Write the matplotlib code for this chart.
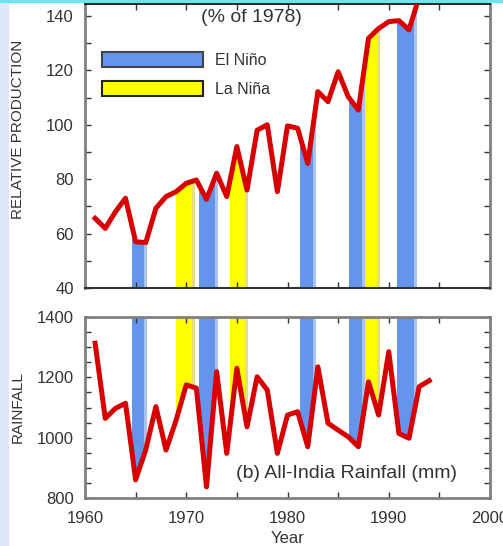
import matplotlib
matplotlib.use("Agg")
import matplotlib.pyplot as plt
import matplotlib.patches as mpatches
from matplotlib.ticker import MultipleLocator
import numpy as np

# data: relative production (% of 1978) and all-India rainfall (mm)
years_prod = list(range(1961, 1994))
production = [65.6, 61.9, 68.0, 73.0, 57.0, 56.7, 69.3, 73.6, 75.4, 78.5,
              79.7, 72.6, 82.2, 73.6, 92.0, 76.0, 98.0, 100.0, 75.4, 99.6,
              98.7, 85.8, 112.2, 108.5, 119.5, 110.3, 105.4, 131.8, 135.4, 137.9,
              138.3, 134.9, 147.0]

years_rain = list(range(1961, 1995))
rainfall = [1313, 1064, 1097, 1114, 860, 960, 1103, 959, 1058, 1175,
            1164, 837, 1219, 948, 1230, 1036, 1202, 1158, 948, 1075,
            1086, 970, 1235, 1048, 1025, 1003, 970, 1185, 1075, 1285,
            1014, 998, 1169, 1189]

el_nino = [(1964.6, 1966.1), (1971.3, 1973.1), (1981.2, 1982.8),
           (1986.1, 1987.65), (1990.8, 1992.75)]
la_nina = [(1969.0, 1970.9), (1974.3, 1976.1), (1987.65, 1989.1)]

# style
BLUE = '#6495ED'
YELLOW = '#FFFF00'
RED = '#d60000'
SPINE = '#808080'
TEXT = '#333333'
plt.rcParams['font.family'] = ['Liberation Sans', 'DejaVu Sans']

fig = plt.figure(figsize=(5.03, 5.46), dpi=100)

# slide decorations around the figure
fig.add_artist(mpatches.Rectangle((0, 0), 9 / 503, 1, transform=fig.transFigure,
                                  facecolor='#dfe7fb', edgecolor='none', zorder=0))
fig.add_artist(mpatches.Rectangle((0, 1 - 3 / 546), 1, 3 / 546, transform=fig.transFigure,
                                  facecolor='#66e8ef', edgecolor='none', zorder=0))

ax1 = fig.add_axes([85 / 503, 0.47253, 405 / 503, 0.52015])
ax2 = fig.add_axes([85 / 503, 0.08791, 405 / 503, 0.3315])


def style_axes(ax):
    for s in ax.spines.values():
        s.set_color(SPINE)
        s.set_linewidth(2)
    ax.tick_params(which='both', direction='in', top=True, right=True,
                   length=4, width=1, color='#333333',
                   labelsize=12, labelcolor=TEXT)
    ax.tick_params(axis='y', pad=8)
    ax.tick_params(axis='x', pad=9)
    ax.set_xlim(1960, 2000)
    ax.xaxis.set_major_locator(MultipleLocator(10))
    ax.xaxis.set_minor_locator(MultipleLocator(5))


def draw_bands(ax, clip, spans, color, edge):
    path = clip.get_paths()[0]
    for a, b in spans:
        r = ax.axvspan(a, b, facecolor=color, edgecolor='none', zorder=1)
        r.set_clip_path(path, ax.transData)
        # lighter strip along the right edge of each band
        s = ax.axvspan(b - 0.3, b, facecolor=edge, edgecolor='none', zorder=1)
        s.set_clip_path(path, ax.transData)


# top panel: production
style_axes(ax1)
ax1.set_ylim(40, 144.4)
ax1.yaxis.set_major_locator(MultipleLocator(20))
ax1.yaxis.set_minor_locator(MultipleLocator(10))
ax1.set_yticks([40, 60, 80, 100, 120, 140])
ax1.tick_params(axis='x', labelbottom=False)
ax1.spines['top'].set_color('black')
ax1.spines['top'].set_linewidth(1.2)
ax1.spines['bottom'].set_color('#333333')
ax1.spines['bottom'].set_linewidth(1.5)

under = ax1.fill_between(years_prod, 40, production, facecolor='none', edgecolor='none')
draw_bands(ax1, under, el_nino, BLUE, '#a9c3ef')
draw_bands(ax1, under, la_nina, YELLOW, '#e6e07a')
ax1.plot(years_prod, production, color=RED, linewidth=3.6, zorder=3)

ax1.set_ylabel('RELATIVE PRODUCTION', fontsize=11, color=TEXT)
ax1.yaxis.set_label_coords(-0.148, 0.56)
ax1.text(0.41, 0.954, '(% of 1978)', transform=ax1.transAxes, fontsize=14,
         ha='center', va='center', color=TEXT)

h_el = mpatches.Patch(facecolor=BLUE, edgecolor='#444444', linewidth=1.5, label='El Niño')
h_la = mpatches.Patch(facecolor=YELLOW, edgecolor='#222222', linewidth=1.5, label='La Niña')
ax1.legend(handles=[h_el, h_la], loc='upper left', bbox_to_anchor=(0.042, 0.832),
           frameon=False, fontsize=11.5, handlelength=6.3, handleheight=1.1,
           labelspacing=0.8, handletextpad=0.75, borderpad=0, borderaxespad=0,
           labelcolor=TEXT)

# bottom panel: rainfall
style_axes(ax2)
ax2.set_ylim(800, 1400)
ax2.set_yticks([800, 1000, 1200, 1400])
ax2.yaxis.set_minor_locator(MultipleLocator(50))
ax2.set_xticks([1960, 1970, 1980, 1990, 2000])

above = ax2.fill_between(years_rain, rainfall, 1400, facecolor='none', edgecolor='none')
draw_bands(ax2, above, el_nino, BLUE, '#a9c3ef')
draw_bands(ax2, above, la_nina, YELLOW, '#e6e07a')
ax2.plot(years_rain, rainfall, color=RED, linewidth=3.6, zorder=3)

ax2.set_ylabel('RAINFALL', fontsize=11, color=TEXT)
ax2.yaxis.set_label_coords(-0.148, 0.5)
ax2.set_xlabel('Year', fontsize=12, color=TEXT, labelpad=4)
ax2.text(0.373, 0.138, '(b) All-India Rainfall (mm)', transform=ax2.transAxes,
         fontsize=14, ha='left', va='center', color=TEXT)

fig.savefig('out.png', dpi=100)
